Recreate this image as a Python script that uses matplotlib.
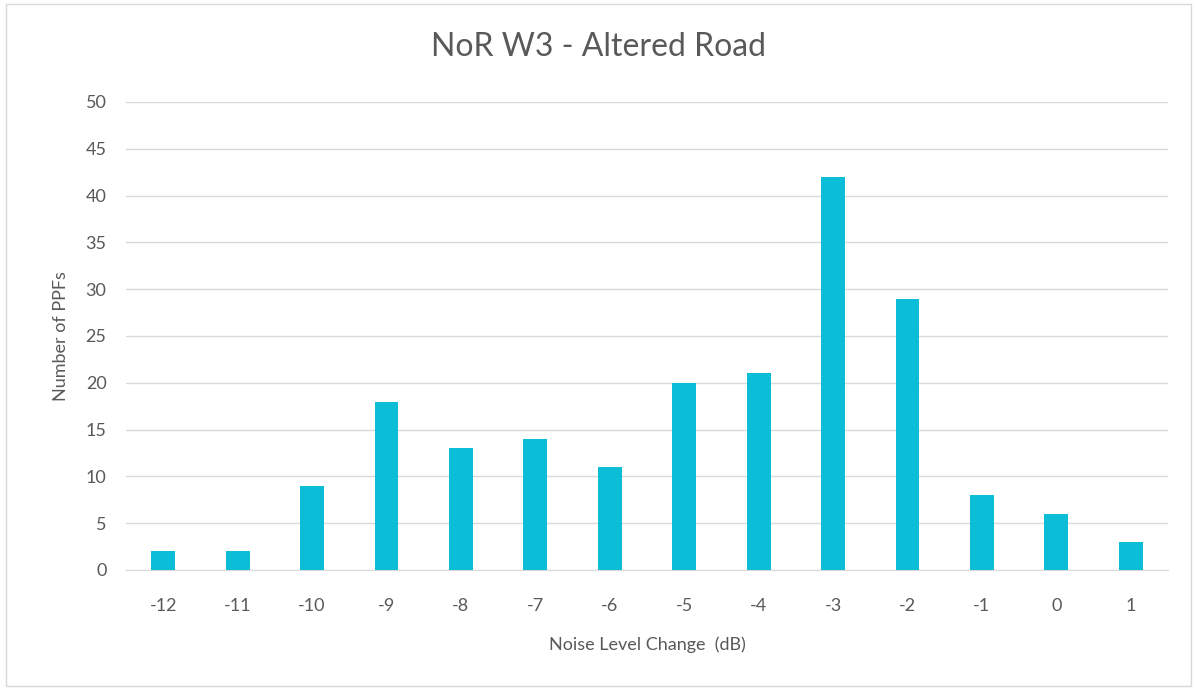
import matplotlib.pyplot as plt
from matplotlib.patches import Rectangle

# Data
noise_change = ['-12', '-11', '-10', '-9', '-8', '-7', '-6', '-5', '-4', '-3', '-2', '-1', '0', '1']
num_ppfs = [2, 2, 9, 18, 13, 14, 11, 20, 21, 42, 29, 8, 6, 3]

plt.rcParams['font.family'] = ['Lato', 'DejaVu Sans']
text_col = '#595959'

fig = plt.figure(figsize=(11.97, 6.9), dpi=100)
ax = fig.add_axes([126 / 1197, 1 - 570 / 690, (1168 - 126) / 1197, (570 - 102) / 690])

x = range(len(noise_change))
ax.bar(x, num_ppfs, width=0.32, color='#0BBDD6', zorder=3)

ax.set_xlim(-0.5, len(noise_change) - 0.5)
ax.set_ylim(0, 50)
ax.set_yticks(range(0, 51, 5))
ax.set_xticks(list(x))
ax.set_xticklabels(noise_change)
ax.grid(axis='y', color='#D9D9D9', linewidth=1, zorder=0)
for s in ['top', 'right', 'left']:
    ax.spines[s].set_visible(False)
ax.spines['bottom'].set_color('#D9D9D9')
ax.tick_params(length=0, labelsize=13, colors=text_col)
ax.tick_params(axis='x', pad=20)
ax.tick_params(axis='y', pad=14)

fig.text(0.5, 1 - 47 / 690, 'NoR W3 - Altered Road', fontsize=23, color=text_col,
         ha='center', va='center')
ax.set_xlabel('Noise Level Change  (dB)', fontsize=13, color=text_col, labelpad=16)
ax.set_ylabel('Number of PPFs', fontsize=13, color=text_col, labelpad=12)

# outer chart border
fig.patches.append(Rectangle((6 / 1197, 4 / 690), 1185 / 1197, 682 / 690,
                             transform=fig.transFigure, fill=False,
                             edgecolor='#D9D9D9', linewidth=1))

fig.savefig('out.png', dpi=100)
